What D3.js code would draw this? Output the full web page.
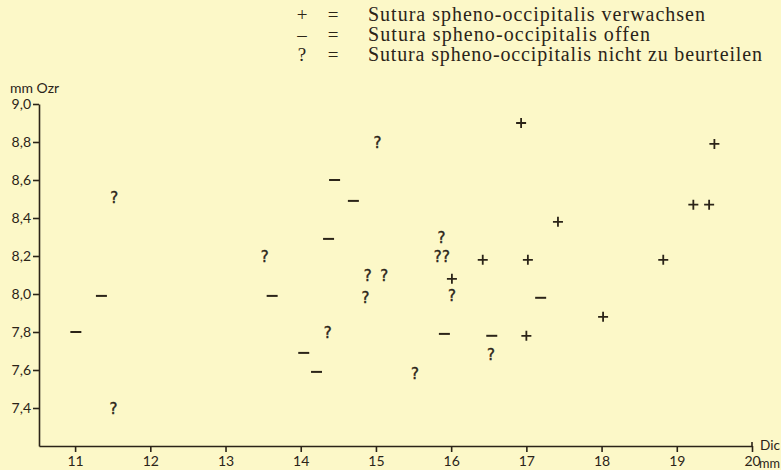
<!DOCTYPE html>
<html>
<head>
<meta charset="utf-8">
<script src="https://cdn.jsdelivr.net/npm/d3@7"></script>
<style>
	html, body { margin: 0; padding: 0; background: #fcf8c8; overflow: hidden; }
	svg { display: block; }
	text { fill: #2b2418; }
</style>
</head>
<body>
<div id="chart"></div>
<script>

// Messwerte [Dicke in mm, Ozr in mm], nach Symbol getrennt
const plusPoints = [
	[16.93, 8.90], [19.50, 8.79], [19.22, 8.47], [19.43, 8.47], [17.42, 8.38],
	[16.42, 8.18], [17.02, 8.18], [18.82, 8.18], [16.01, 8.08], [18.02, 7.88],
	[17.00, 7.78]
];
const minusPoints = [
	[14.45, 8.60], [14.70, 8.49], [14.37, 8.29], [13.62, 7.99], [11.35, 7.99],
	[11.01, 7.80], [14.04, 7.69], [14.21, 7.59], [17.19, 7.98], [15.91, 7.79],
	[16.54, 7.78]
];
const questionPoints = [
	[15.02, 8.80], [11.52, 8.51], [13.52, 8.20], [15.87, 8.30], [15.82, 8.20],
	[15.93, 8.20], [14.89, 8.10], [15.11, 8.10], [14.86, 7.98], [16.01, 7.99],
	[14.36, 7.80], [16.53, 7.68], [15.52, 7.58], [11.51, 7.40]
];

const xTicks = [11, 12, 13, 14, 15, 16, 17, 18, 19, 20];
const yTicks = [9.0, 8.8, 8.6, 8.4, 8.2, 8.0, 7.8, 7.6, 7.4];

const legendSymbols = ['+', '\u2013', '?'];
const legendLabels = [
	'Sutura spheno-occipitalis verwachsen',
	'Sutura spheno-occipitalis offen',
	'Sutura spheno-occipitalis nicht zu beurteilen'
];

class ScatterChart {

	constructor(options) {
		this.element = options.element;
		this.draw();
	}

	draw() {
		this.width = 781;
		this.height = 470;
		this.ink = '#2b2418';
		this.sans = 'Lato, "Noto Sans", sans-serif';
		this.serif = '"Liberation Serif", "DejaVu Serif", serif';

		this.createSVG();
		this.createScales();
		this.createAxes();
		this.createMarks();
		this.createLegend();
	}

	createSVG() {
		this.svg = d3.select(this.element)
			.append('svg')
				.attr('width', this.width)
				.attr('height', this.height);
	}

	createScales() {
		// Achse beginnt etwas links von 11 und bei 7,2 (ohne Beschriftung)
		this.xScale = d3.scaleLinear()
			.domain([10.52, 20])
			.range([39, 752]);

		this.yScale = d3.scaleLinear()
			.domain([7.2, 9.0])
			.range([446, 104]);
	}

	createAxes() {
		const comma = d => d3.format('.1f')(d).replace('.', ',');

		const xAxis = d3.axisBottom(this.xScale)
			.tickValues(xTicks)
			.tickSizeInner(6)
			.tickSizeOuter(0)
			.tickPadding(4)
			.tickFormat(d3.format('d'));

		const gx = this.svg.append('g')
			.attr('transform', `translate(0, ${this.yScale(7.2)})`)
			.call(xAxis);

		const yAxis = d3.axisLeft(this.yScale)
			.tickValues(yTicks)
			.tickSizeInner(6)
			.tickSizeOuter(0)
			.tickPadding(2)
			.tickFormat(comma);

		const gy = this.svg.append('g')
			.attr('transform', `translate(${this.xScale(10.52)}, 0)`)
			.call(yAxis);

		[gx, gy].forEach(g => {
			g.selectAll('path, line')
				.attr('stroke', this.ink)
				.attr('stroke-width', 1.6);
			g.selectAll('text')
				.attr('font-family', this.sans)
				.attr('font-size', 14)
				.attr('fill', this.ink);
		});

		// kleiner Haken am Ende der x-Achse
		gx.append('line')
			.attr('x1', this.xScale(20)).attr('x2', this.xScale(20))
			.attr('y1', -4).attr('y2', 0)
			.attr('stroke', this.ink)
			.attr('stroke-width', 1.6);

		this.svg.append('text')
			.attr('x', 10)
			.attr('y', 93)
			.attr('font-family', this.sans)
			.attr('font-size', 14)
			.text('mm Ozr');

		this.svg.append('text')
			.attr('x', 760)
			.attr('y', this.yScale(7.2) + 4)
			.attr('font-family', this.sans)
			.attr('font-size', 13)
			.attr('textLength', 20)
			.attr('lengthAdjust', 'spacingAndGlyphs')
			.text('Dic');

		this.svg.append('text')
			.attr('x', 759)
			.attr('y', this.yScale(7.2) + 22)
			.attr('font-family', this.sans)
			.attr('font-size', 13)
			.attr('textLength', 21)
			.attr('lengthAdjust', 'spacingAndGlyphs')
			.text('mm');
	}

	createMarks() {
		const that = this;
		const marks = this.svg.append('g');

		marks.selectAll('path.plus')
			.data(plusPoints).enter()
			.append('path')
				.attr('class', 'plus')
				.attr('d', function(d) {
					const x = that.xScale(d[0]), y = that.yScale(d[1]);
					return `M${x - 5},${y}h10M${x},${y - 5}v10`;
				})
				.attr('stroke', this.ink)
				.attr('stroke-width', 1.8);

		marks.selectAll('path.minus')
			.data(minusPoints).enter()
			.append('path')
				.attr('class', 'minus')
				.attr('d', function(d) {
					const x = that.xScale(d[0]), y = that.yScale(d[1]);
					return `M${x - 5.5},${y}h11`;
				})
				.attr('stroke', this.ink)
				.attr('stroke-width', 2);

		// Fragezeichen etwas kräftiger als normaler Text
		marks.selectAll('text.question')
			.data(questionPoints).enter()
			.append('text')
				.attr('class', 'question')
				.attr('x', d => this.xScale(d[0]))
				.attr('y', d => this.yScale(d[1]))
				.attr('dy', '0.37em')
				.attr('text-anchor', 'middle')
				.attr('font-family', '"DejaVu Sans", sans-serif')
				.attr('font-size', 15)
				.attr('stroke', this.ink)
				.attr('stroke-width', 0.4)
				.text('?');
	}

	createLegend() {
		const widths = [337, 282, 394];
		const rows = this.svg.append('g')
			.selectAll('g')
			.data(legendLabels).enter()
			.append('g')
				.attr('transform', (d, i) => `translate(0, ${21 + i * 20})`);

		rows.append('text')
			.attr('x', 302)
			.attr('text-anchor', 'middle')
			.attr('font-family', this.serif)
			.attr('font-size', 19)
			.text((d, i) => legendSymbols[i]);

		rows.append('text')
			.attr('x', 333)
			.attr('text-anchor', 'middle')
			.attr('font-family', this.serif)
			.attr('font-size', 19)
			.text('=');

		rows.append('text')
			.attr('x', 368)
			.attr('font-family', this.serif)
			.attr('font-size', 20)
			.attr('textLength', (d, i) => widths[i])
			.attr('lengthAdjust', 'spacing')
			.text(d => d);
	}

}

new ScatterChart({ element: '#chart' });

</script>
</body>
</html>
